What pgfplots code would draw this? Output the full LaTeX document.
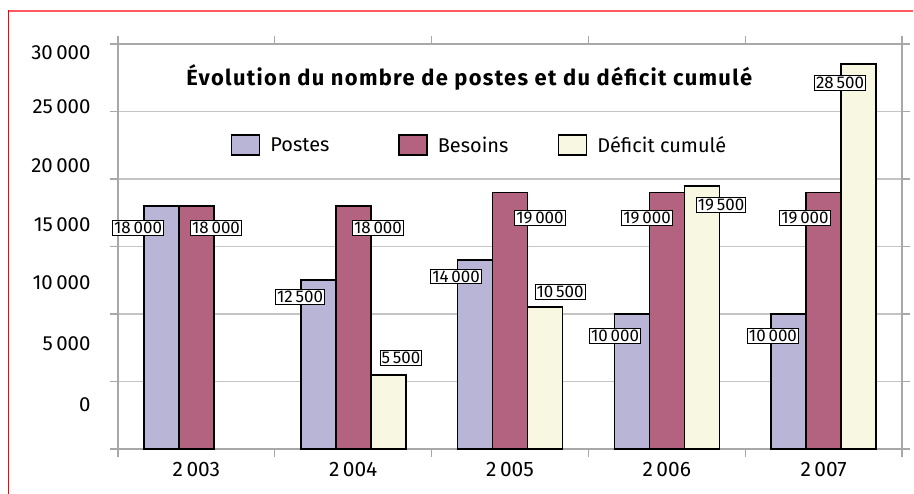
\documentclass[border=0pt]{standalone}
\usepackage{pgfplots}
\pgfplotsset{compat=1.18}
\usepackage{fontspec}
\setmainfont{Fira Sans}
\newfontfamily\titlefont[LetterSpace=6]{Fira Sans}
\definecolor{postes}{HTML}{B9B5D7}
\definecolor{besoins}{HTML}{B3637F}
\definecolor{deficit}{HTML}{F8F7E1}
\definecolor{gridgray}{HTML}{C4C4C4}
\definecolor{axgray}{HTML}{A8A8A8}
\definecolor{redline}{HTML}{FF5A60}
\begin{document}
\begin{tikzpicture}[x=1bp,y=1bp]
\useasboundingbox (0,0) rectangle (914,494);
\draw[redline, line width=2bp] (8,483) -- (913,483);
\draw[red, line width=1bp] (8.5,484) -- (8.5,0);
\begin{axis}[
  at={(118bp,45bp)}, anchor=south west,
  scale only axis, width=784bp, height=405bp,
  xmin=-0.5, xmax=4.5, ymin=0, ymax=30000,
  clip=false,
  scaled y ticks=false,
  axis line style={axgray, line width=1.6bp},
  ymajorgrids, grid style={gridgray, line width=1.2bp},
  ytick={0,5000,...,30000}, yticklabels={},
  ytick style={axgray, line width=1.2bp},
  tick align=outside, major tick length=8bp,
  extra y ticks={3259,7778,12296,16593,20963,25333,29333},
  extra y tick labels={0,5\,000,10\,000,15\,000,20\,000,25\,000,30\,000},
  extra y tick style={grid=none, major tick length=0bp},
  yticklabel style={font=\fontsize{20.5}{24}\selectfont, xshift=-24bp},
  xtick={-0.5,0.5,...,4.5}, xticklabels={},
  xtick style={axgray, line width=1.2bp},
  extra x ticks={0,1,2,3,4},
  extra x tick labels={2\,003,2\,004,2\,005,2\,006,2\,007},
  extra x tick style={major tick length=0bp},
  xticklabel style={font=\fontsize{21}{24}\selectfont, yshift=-10bp},
  /pgf/number format/assume math mode=true,
  ybar,
  bar width=0.2232,
  every axis plot/.append style={draw=black, line width=1.6bp},
  legend columns=3,
  legend style={at={(rel axis cs:0.144,0.7506)}, anchor=west, draw=none, fill=none,
    font=\fontsize{20}{24}\selectfont, inner sep=0pt,
    /tikz/every odd column/.append style={column sep=8bp},
    /tikz/every even column/.append style={column sep=0bp}},
  legend cell align=left,
  legend image code/.code={\draw[#1, draw=black, line width=1.4bp] (0bp,-10bp) rectangle (28bp,10bp);},
]
\addplot[fill=postes, bar shift=-0.2232] coordinates {(0,18000) (1,12500) (2,14000) (3,10000) (4,10000)};
\addlegendentry{\makebox[126bp][l]{Postes}}
\addplot[fill=besoins, bar shift=0] coordinates {(0,18000) (1,18000) (2,19000) (3,19000) (4,19000)};
\addlegendentry{\makebox[118bp][l]{Besoins}}
\addplot[fill=deficit, bar shift=0.2232] coordinates {(1,5500) (2,10500) (3,19500) (4,28500)};
\addlegendentry{Déficit cumulé}

\node[font=\titlefont\bfseries\fontsize{22}{26}\selectfont] at (rel axis cs:0.448,0.9185) {Évolution du nombre de postes et du déficit cumulé};

\tikzset{lbl/.style={draw=black, fill=white, line width=0.8bp, inner sep=1.5bp, font=\fontsize{17}{19}\selectfont}}
\node[lbl] at (axis cs:-0.372,16370) {18\,000};
\node[lbl] at (axis cs:0.125,16370) {18\,000};
\node[lbl] at (axis cs:0.661,11259) {12\,500};
\node[lbl] at (axis cs:1.158,16370) {18\,000};
\node[lbl] at (axis cs:1.305,6741) {5\,500};
\node[lbl] at (axis cs:1.656,12778) {14\,000};
\node[lbl] at (axis cs:2.191,17111) {19\,000};
\node[lbl] at (axis cs:2.319,11630) {10\,500};
\node[lbl] at (axis cs:2.670,8370) {10\,000};
\node[lbl] at (axis cs:2.874,17111) {19\,000};
\node[lbl] at (axis cs:3.346,18074) {19\,500};
\node[lbl] at (axis cs:3.677,8370) {10\,000};
\node[lbl] at (axis cs:3.881,17111) {19\,000};
\node[lbl] at (axis cs:4.105,27111) {28\,500};
\end{axis}
\end{tikzpicture}
\end{document}
